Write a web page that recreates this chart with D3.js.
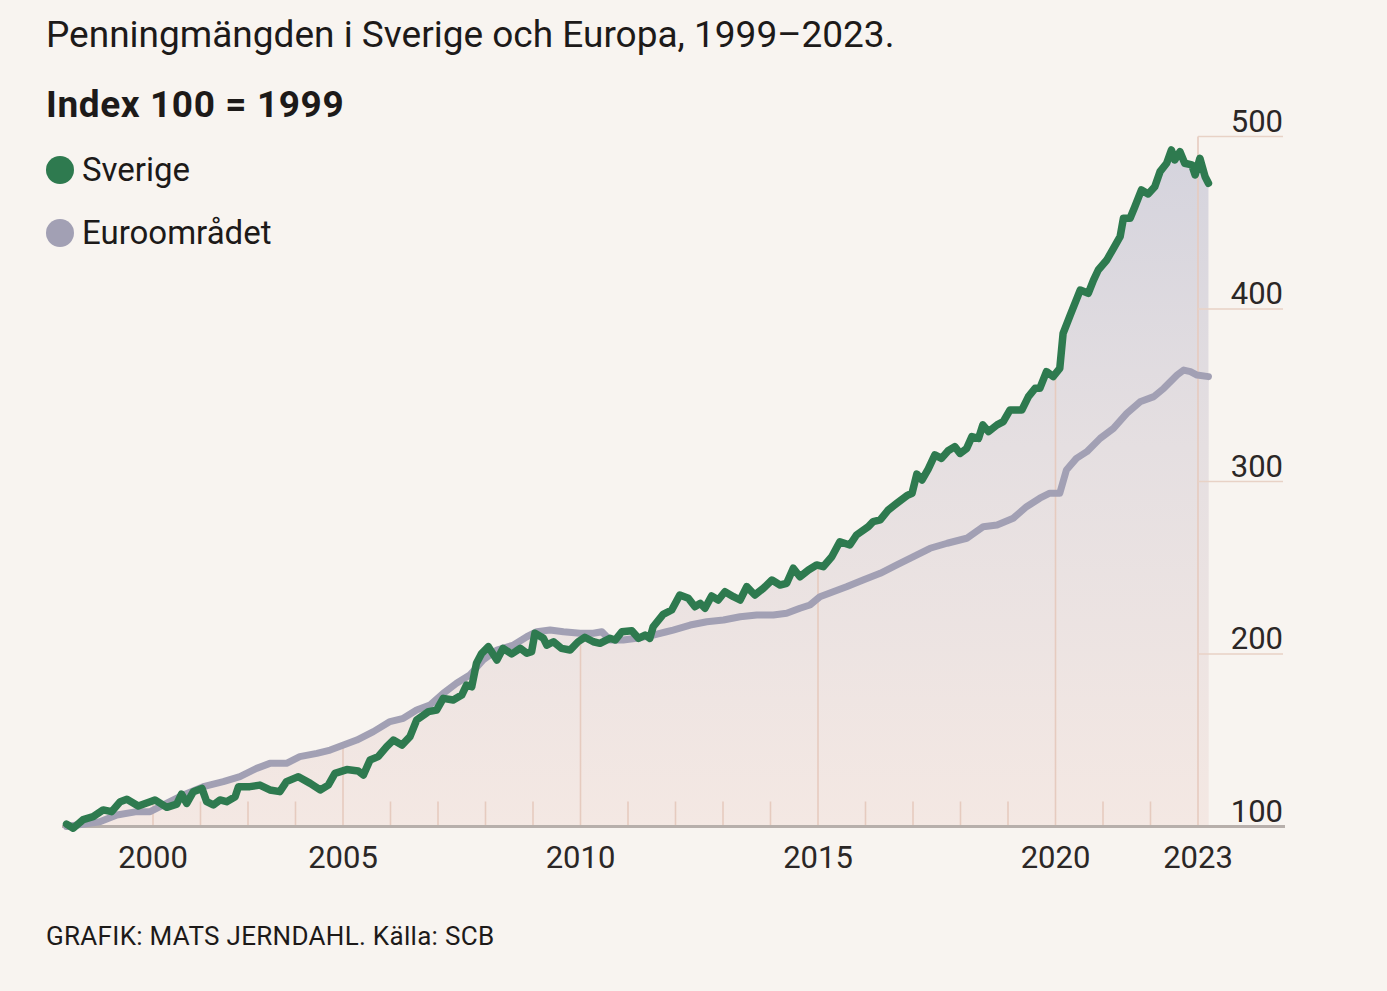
<!DOCTYPE html>
<html>
<head>
<meta charset="utf-8">
<script src="https://cdn.jsdelivr.net/npm/d3@7"></script>
<style>
  html, body { margin: 0; padding: 0; background: #f8f4f0; }
  svg { display: block; }
  text { font-family: Roboto, "Noto Sans", sans-serif; }
</style>
</head>
<body>
<svg id="chart" width="1387" height="991"></svg>
<script>
// ---- Data (index, 1999 = 100) ----
const sverige = [
  [1999.18,101.4],[1999.32,99],[1999.53,104],[1999.74,105.7],[1999.95,109.6],[2000.13,108.6],
  [2000.31,114.4],[2000.45,115.8],[2000.69,111.9],[2000.94,114.4],[2001.04,115.4],[2001.29,111.1],
  [2001.50,113],[2001.60,118.8],[2001.71,113.4],[2001.85,120.2],[2002.03,122.1],[2002.13,114.4],
  [2002.27,112.5],[2002.41,115.4],[2002.55,114.4],[2002.73,117.3],[2002.80,123.1],[2003.04,123.1],
  [2003.25,124],[2003.46,121.2],[2003.67,120.2],[2003.81,126],[2004.06,128.9],[2004.31,125],
  [2004.52,121.2],[2004.69,124],[2004.83,130.8],[2005.08,133],[2005.32,132.2],[2005.43,129.9],
  [2005.57,138.6],[2005.74,140.5],[2005.92,146.3],[2006.06,150.1],[2006.24,147.2],[2006.41,152.1],
  [2006.55,161.7],[2006.80,166.6],[2006.97,167.5],[2007.11,174.3],[2007.32,173.3],[2007.50,176.2],
  [2007.60,182],[2007.71,181],[2007.81,194.6],[2007.92,200.4],[2008.06,204.2],[2008.24,196.5],
  [2008.37,203.3],[2008.55,200],[2008.73,203.3],[2008.87,200.4],[2008.97,201.3],[2009.04,212],
  [2009.22,209.1],[2009.29,205.2],[2009.43,207.1],[2009.60,203.3],[2009.78,202.3],[2009.95,207.1],
  [2010.09,209.7],[2010.27,207.1],[2010.41,206.2],[2010.62,209.1],[2010.73,208.1],[2010.87,212.9],
  [2011.08,213.5],[2011.22,209.1],[2011.36,211],[2011.46,209.1],[2011.53,215.8],[2011.74,223],
  [2011.92,225.5],[2012.09,234.2],[2012.27,232.3],[2012.41,227.4],[2012.52,229.4],[2012.62,226.5],
  [2012.76,233.6],[2012.90,231.3],[2013.04,236.1],[2013.22,233.2],[2013.36,231.3],[2013.50,239],
  [2013.67,234.2],[2013.85,238.1],[2014.03,242.9],[2014.20,240],[2014.34,241],[2014.48,249.7],
  [2014.62,244.8],[2014.80,248.7],[2014.97,251.6],[2015.11,250.6],[2015.29,256.4],[2015.46,265.1],
  [2015.67,263.2],[2015.81,269],[2016.06,273.8],[2016.16,276.7],[2016.31,277.7],[2016.48,283.5],
  [2016.66,287.4],[2016.87,291.8],[2016.98,293.2],[2017.08,304.3],[2017.19,300.9],[2017.32,307.2],
  [2017.46,315.4],[2017.60,313.4],[2017.74,317.8],[2017.88,320.2],[2017.99,316.3],[2018.13,319.2],
  [2018.24,326],[2018.38,325],[2018.47,332.8],[2018.59,328.9],[2018.77,332.8],[2018.90,334.7],
  [2019.04,341.4],[2019.29,341.4],[2019.43,349.2],[2019.57,354],[2019.67,354],[2019.81,363.7],
  [2019.95,360.8],[2020.09,365.6],[2020.16,385.9],[2020.31,396.5],[2020.52,411],[2020.69,409.1],
  [2020.80,416.8],[2020.90,422.6],[2021.08,428.4],[2021.22,435.2],[2021.36,441.9],[2021.43,452.6],
  [2021.57,452.6],[2021.67,459.3],[2021.81,469],[2021.95,466.7],[2022.09,470.9],[2022.20,479.6],
  [2022.34,484.5],[2022.44,492.2],[2022.51,486.4],[2022.62,491.2],[2022.72,484.5],[2022.87,483.5],
  [2022.94,477.7],[2023.04,487.4],[2023.15,476.7],[2023.22,472.9]
];
const euroomradet = [
  [1999.18,100],[1999.88,102.8],[2000.24,106.7],[2000.66,108.6],[2000.94,108.6],[2001.22,112.5],
  [2001.64,118.3],[2002.06,123.1],[2002.48,126],[2002.83,128.9],[2003.18,133.7],[2003.46,136.6],
  [2003.81,136.6],[2004.09,140.5],[2004.45,142.4],[2004.73,144.3],[2005.01,147.2],[2005.29,150.1],
  [2005.64,155],[2005.99,160.8],[2006.27,162.7],[2006.55,167.5],[2006.83,170.4],[2007.11,177.2],
  [2007.39,183],[2007.67,187.8],[2007.95,196.5],[2008.24,202.3],[2008.59,205.2],[2008.87,210],
  [2009.08,212.9],[2009.36,213.9],[2009.64,212.9],[2009.99,212],[2010.27,212],[2010.45,212.9],
  [2010.62,208.1],[2010.90,208.1],[2011.18,209.1],[2011.53,211],[2011.81,212.9],[2011.95,213.9],
  [2012.31,216.8],[2012.66,218.7],[2013.01,219.7],[2013.36,221.6],[2013.71,222.6],[2014.06,222.6],
  [2014.34,223.6],[2014.62,226.5],[2014.83,228.4],[2015.04,233.2],[2015.32,236.1],[2015.60,239],
  [2015.95,242.9],[2016.31,246.8],[2016.66,251.6],[2017.01,256.4],[2017.36,261.3],[2017.72,264.2],
  [2018.13,267.1],[2018.48,273.8],[2018.77,274.8],[2019.11,278.7],[2019.39,285.4],[2019.67,290.3],
  [2019.88,293.2],[2020.09,293.2],[2020.23,306.7],[2020.44,313.4],[2020.66,317.3],[2020.94,325],
  [2021.22,330.8],[2021.50,339.5],[2021.78,346.2],[2022.07,349.2],[2022.28,354],[2022.56,361.7],
  [2022.70,364.6],[2022.84,363.7],[2022.98,361.7],[2023.22,360.8]
];
const yTicks = [100, 200, 300, 400, 500];
const majorYears = [2005, 2010, 2015, 2020];
const lastYear = 2023;
const minorYears = [2001,2002,2003,2004,2006,2007,2008,2009,2011,2012,2013,2014,2016,2017,2018,2019,2021,2022];
const xLabelYears = [2001, 2005, 2010, 2015, 2020, 2023];
const xLabelTexts = ["2000", "2005", "2010", "2015", "2020", "2023"];
const seriesNames = ["Sverige", "Euroområdet"];
const titleText = "Penningmängden i Sverige och Europa, 1999–2023.";
const subtitleText = "Index 100 = 1999";
const sourceText = "GRAFIK: MATS JERNDAHL. Källa: SCB";

// ---- Styles ----
const COL_SE = "#2e7a4f", COL_EU = "#a2a0b4";
const svg = d3.select("#chart");

const x = d3.scaleLinear().domain([2005, 2020]).range([343, 1055.5]);
const y = d3.scaleLinear().domain([100, 500]).range([826.5, 136.5]);

// gradient
const defs = svg.append("defs");
const grad = defs.append("linearGradient").attr("id", "fillGrad")
  .attr("gradientUnits", "userSpaceOnUse")
  .attr("x1", 0).attr("x2", 0).attr("y1", y(500)).attr("y2", y(100));
grad.append("stop").attr("offset", "0%").attr("stop-color", "#d4d3dd");
grad.append("stop").attr("offset", "45%").attr("stop-color", "#e5dfe1");
grad.append("stop").attr("offset", "100%").attr("stop-color", "#f4e8e3");

const area = d3.area().x(d => x(d[0])).y0(y(100)).y1(d => y(d[1]));
const line = d3.line().x(d => x(d[0])).y(d => y(d[1]));

const clip = defs.append("clipPath").attr("id", "areaClip");
clip.append("path").attr("d", area(sverige));
clip.append("path").attr("d", area(euroomradet));

// areas (union via identical opaque fill)
svg.append("path").attr("d", area(euroomradet)).attr("fill", "url(#fillGrad)");
svg.append("path").attr("d", area(sverige)).attr("fill", "url(#fillGrad)");

// vertical grid lines inside area
const gridG = svg.append("g").attr("clip-path", "url(#areaClip)");
gridG.selectAll("line.major").data(majorYears).join("line")
  .attr("x1", d => x(d)).attr("x2", d => x(d))
  .attr("y1", y(100)).attr("y2", y(500))
  .attr("stroke", "#e6cbbf").attr("stroke-width", 1.6);
gridG.selectAll("line.minor").data(minorYears).join("line")
  .attr("x1", d => x(d)).attr("x2", d => x(d))
  .attr("y1", y(100)).attr("y2", y(100) - 25)
  .attr("stroke", "#e6cbbf").attr("stroke-width", 1.6);

// last year line (full height)
svg.append("line")
  .attr("x1", x(lastYear)).attr("x2", x(lastYear))
  .attr("y1", y(100)).attr("y2", y(500))
  .attr("stroke", "#e6cbbf").attr("stroke-width", 1.6);

// horizontal y grid stubs
const yRight = 1283;
svg.selectAll("line.ygrid").data(yTicks.filter(v => v > 100)).join("line")
  .attr("x1", x(lastYear)).attr("x2", yRight)
  .attr("y1", d => y(d)).attr("y2", d => y(d))
  .attr("stroke", "#e8d2c6").attr("stroke-width", 1.6);

// y labels
svg.selectAll("text.ylab").data(yTicks).join("text")
  .attr("x", yRight).attr("y", d => y(d) - 5)
  .attr("text-anchor", "end").attr("font-size", 31).attr("fill", "#2b2726")
  .text(d => d);

// baseline axis
svg.append("line").attr("x1", 62).attr("x2", 1285)
  .attr("y1", y(100)).attr("y2", y(100))
  .attr("stroke", "#b7afab").attr("stroke-width", 3);

// series lines
svg.append("path").attr("d", line(euroomradet)).attr("fill", "none")
  .attr("stroke", COL_EU).attr("stroke-width", 7)
  .attr("stroke-linejoin", "round").attr("stroke-linecap", "round");
svg.append("path").attr("d", line(sverige)).attr("fill", "none")
  .attr("stroke", COL_SE).attr("stroke-width", 7.5)
  .attr("stroke-linejoin", "round").attr("stroke-linecap", "round");

// x labels
svg.selectAll("text.xlab").data(xLabelYears).join("text")
  .attr("x", d => x(d)).attr("y", 868)
  .attr("text-anchor", "middle").attr("font-size", 31).attr("fill", "#2b2726")
  .text((d, i) => xLabelTexts[i]);

// titles
svg.append("text").attr("x", 46).attr("y", 47).attr("font-size", 37)
  .attr("fill", "#1d1a19").text(titleText);
svg.append("text").attr("x", 46).attr("y", 117).attr("font-size", 37)
  .attr("font-weight", 700).attr("letter-spacing", 0.6).attr("fill", "#1d1a19").text(subtitleText);

// legend
const legCol = [COL_SE, COL_EU];
const leg = svg.selectAll("g.leg").data(seriesNames).join("g")
  .attr("transform", (d, i) => `translate(60, ${170 + i * 63})`);
leg.append("circle").attr("r", 14).attr("fill", (d, i) => legCol[i]);
leg.append("text").attr("x", 22).attr("y", 11).attr("font-size", 33)
  .attr("fill", "#1d1a19").text(d => d);

// source
svg.append("text").attr("x", 46).attr("y", 945).attr("font-size", 26)
  .attr("letter-spacing", 0.3).attr("fill", "#1d1a19").text(sourceText);
</script>
</body>
</html>
